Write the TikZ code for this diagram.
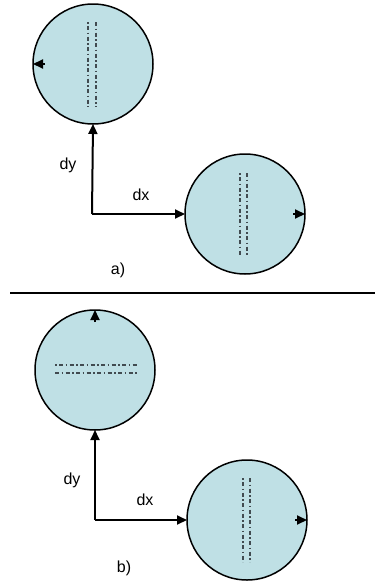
\documentclass[tikz,border=0pt]{standalone}
\usepackage{fontspec}
\setmainfont{Liberation Sans}
\usepackage{tikz}
\usetikzlibrary{arrows.meta}
\definecolor{discblue}{RGB}{191,224,229}
\definecolor{markgray}{RGB}{65,75,80}

\begin{document}
\begin{tikzpicture}[
    x=1pt, y=-1pt,
    disc/.style={circle, draw, line width=1.5pt, fill=discblue, minimum size=120pt,
                 inner sep=0pt, outer sep=0pt},
    arr/.style={-{Triangle[length=10pt, width=9pt]}, line width=2pt},
    markline/.style={markgray, line width=1.7pt},
    markA/.style={markline, dash pattern=on 1.5pt off 2.5pt on 4pt off 2.5pt},
    markB/.style={markline, dash pattern=on 4pt off 2.5pt on 1.5pt off 2.5pt},
    lbl/.style={font=\fontsize{16}{18}\selectfont, inner sep=0pt}
]
    \useasboundingbox (0,0) rectangle (375,584);

    % a) translation only
    \node[disc] (a1) at (93,64)  {};
    \node[disc] (a2) at (245,214) {};
    \coordinate (ca) at (92,214);
    \draw[markA] (88,22)  -- (88,107);
    \draw[markB] (96,22)  -- (96,107);
    \draw[markA] (240,173) -- (240,256);
    \draw[markB] (247,173) -- (247,256);
    \draw[arr] ([xshift=12pt]a1.west) -- (a1.west);
    \draw[arr] ([xshift=-12pt]a2.east) -- (a2.east);
    \draw[arr] (ca) -- (a1.south);
    \draw[arr] (ca) -- (a2.west);
    \node[lbl] (dya) at (68,165) {dy};
    \node[lbl] (dxa) at (141,195) {dx};
    \node[lbl] (capa) at (118,270) {a)};

    \draw[line width=1.5pt] (10,293) -- (375,293);

    % b) translation and rotation
    \node[disc] (b1) at (95,370) {};
    \node[disc] (b2) at (247,520) {};
    \coordinate (cb) at (95,520);
    \draw[markA] (55,365) -- (138,365);
    \draw[markB] (55,373) -- (138,373);
    \draw[markA] (243,478) -- (243,562);
    \draw[markB] (250,478) -- (250,562);
    \draw[arr] ([yshift=-12pt]b1.north) -- (b1.north);
    \draw[arr] ([xshift=-12pt]b2.east) -- (b2.east);
    \draw[arr] (cb) -- (b1.south);
    \draw[arr] (cb) -- (b2.west);
    \node[lbl] (dyb) at (72,480) {dy};
    \node[lbl] (dxb) at (145,500) {dx};
    \node[lbl] (capb) at (124,568) {b)};
\end{tikzpicture}
\end{document}
